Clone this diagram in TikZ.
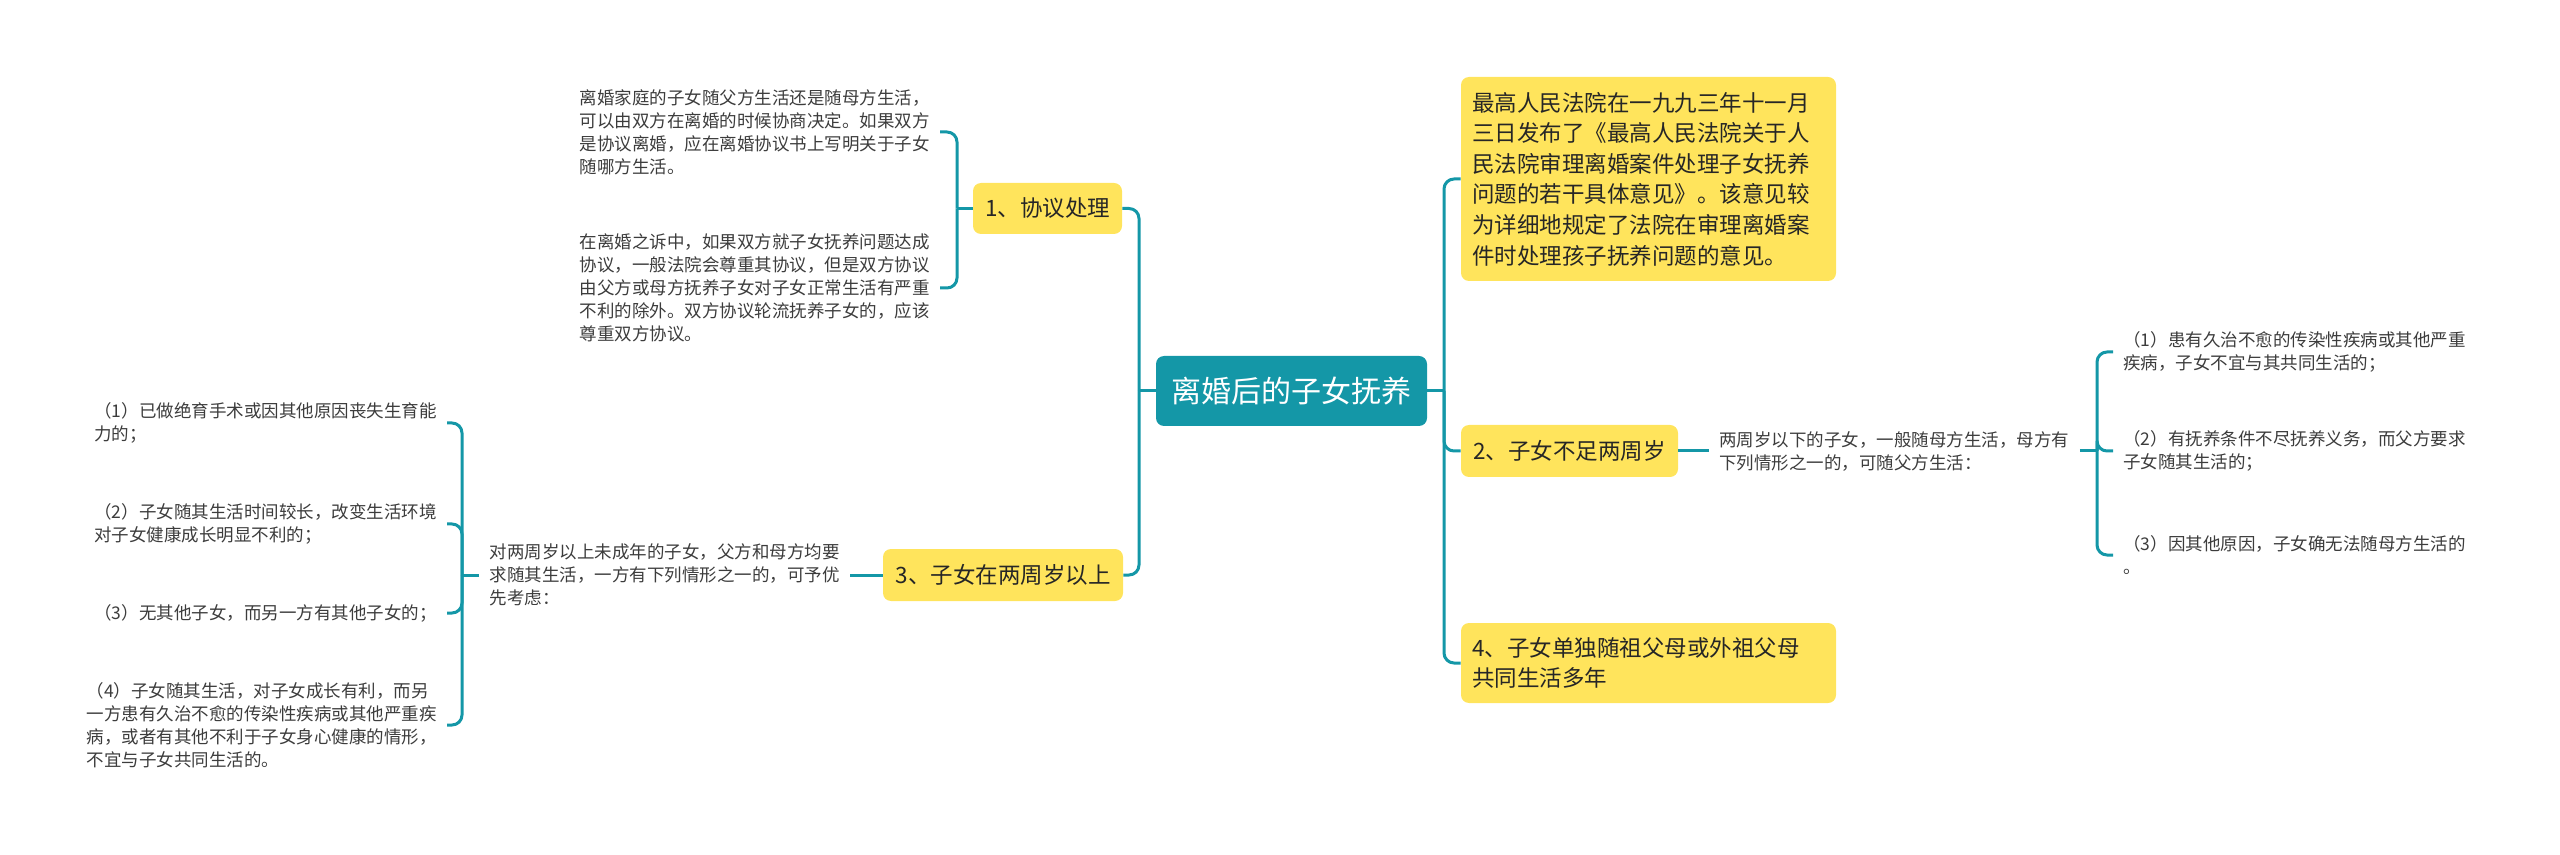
\documentclass[tikz,border=0pt]{standalone}
\usepackage{fontspec}
\setmainfont{Noto Sans CJK SC}

\definecolor{mapteal}{RGB}{20,151,167}
\definecolor{mapyellow}{RGB}{255,228,92}
\definecolor{mapink}{RGB}{38,38,38}
\definecolor{leafink}{RGB}{60,60,60}

\begin{document}
\begin{tikzpicture}[x=0.5pt, y=-0.5pt,
  conn/.style={draw=mapteal, line width=1.5pt, rounded corners=5pt},
  root/.style={fill=mapteal, text=white, rounded corners=4pt,
    font=\fontsize{15}{18}\selectfont, minimum width=135.5pt, minimum height=35pt},
  topic/.style={fill=mapyellow, text=mapink, rounded corners=4pt,
    font=\fontsize{11.25}{15.3}\selectfont, align=left, inner xsep=5.5pt},
  leaf/.style={text=leafink, font=\fontsize{8.75}{11.5}\selectfont,
    align=left, inner xsep=5pt, inner ysep=0pt}]

  \useasboundingbox (0,0) rectangle (2560,855);

  \node[root] (root) at (1291.5,391) {离婚后的子女抚养};

  % Left topics
  \node[topic, minimum width=74.5pt, minimum height=25.5pt] (agree) at (1047.5,208.5) {1、协议处理};
  \node[topic, minimum width=120pt, minimum height=26pt] (over) at (1003,575) {3、子女在两周岁以上};

  % Right topics
  \node[topic, text width=176.5pt, minimum height=102pt] (court) at (1648.5,179)
    {最高人民法院在一九九三年十一月\\三日发布了《最高人民法院关于人\\民法院审理离婚案件处理子女抚养\\问题的若干具体意见》。该意见较\\为详细地规定了法院在审理离婚案\\件时处理孩子抚养问题的意见。};
  \node[topic, minimum width=108.5pt, minimum height=26pt] (under) at (1569.5,451) {2、子女不足两周岁};
  \node[topic, text width=176.5pt, minimum height=40pt] (grand) at (1648.5,663)
    {4、子女单独随祖父母或外祖父母\\共同生活多年};

  % Leaves of 1
  \node[leaf, anchor=east] (custom) at (940,132)
    {离婚家庭的子女随父方生活还是随母方生活，\\可以由双方在离婚的时候协商决定。如果双方\\是协议离婚，应在离婚协议书上写明关于子女\\随哪方生活。};
  \node[leaf, anchor=east] (suit) at (940,288)
    {在离婚之诉中，如果双方就子女抚养问题达成\\协议，一般法院会尊重其协议，但是双方协议\\由父方或母方抚养子女对子女正常生活有严重\\不利的除外。双方协议轮流抚养子女的，应该\\尊重双方协议。};

  % Leaves of 3
  \node[leaf, anchor=east] (pref) at (850,575)
    {对两周岁以上未成年的子女，父方和母方均要\\求随其生活，一方有下列情形之一的，可予优\\先考虑：};
  \node[leaf, anchor=east] (o1) at (447,423)
    {（1）已做绝育手术或因其他原因丧失生育能\\力的；};
  \node[leaf, anchor=east] (o2) at (447,524)
    {（2）子女随其生活时间较长，改变生活环境\\对子女健康成长明显不利的；};
  \node[leaf, anchor=east] (o3) at (447,613)
    {（3）无其他子女，而另一方有其他子女的；};
  \node[leaf, anchor=east] (o4) at (447,725)
    {（4）子女随其生活，对子女成长有利，而另\\一方患有久治不愈的传染性疾病或其他严重疾\\病，或者有其他不利于子女身心健康的情形，\\不宜与子女共同生活的。};

  % Leaves of 2
  \node[leaf, anchor=west] (rule) at (1709,451)
    {两周岁以下的子女，一般随母方生活，母方有\\下列情形之一的，可随父方生活：};
  \node[leaf, anchor=west] (u1) at (2113,352)
    {（1）患有久治不愈的传染性疾病或其他严重\\疾病，子女不宜与其共同生活的；};
  \node[leaf, anchor=west] (u2) at (2113,451)
    {（2）有抚养条件不尽抚养义务，而父方要求\\子女随其生活的；};
  \node[leaf, anchor=west] (u3) at (2113,555)
    {（3）因其他原因，子女确无法随母方生活的\\。};

  % Trunks
  \coordinate (lt) at (1139,391);
  \coordinate (rt) at (1444,391);
  \draw[conn] (root.west) -- (lt);
  \draw[conn] (root.east) -- (rt);
  \foreach \n in {agree, over}
    \draw[conn] (lt) |- (\n.east);
  \foreach \n in {court, under, grand}
    \draw[conn] (rt) |- (\n.west);

  % Brackets
  \coordinate (b1) at (957,208.5);
  \coordinate (b3) at (462,575);
  \coordinate (b2) at (2097,451);
  \draw[conn] (agree.west) -- (b1);
  \foreach \n in {custom, suit}
    \draw[conn] (b1) |- (\n.east);

  \draw[conn] (over.west) -- (pref.east);
  \draw[conn] (pref.west) -- (b3);
  \foreach \n in {o1, o2, o3, o4}
    \draw[conn] (b3) |- (\n.east);

  \draw[conn] (under.east) -- (rule.west);
  \draw[conn] (rule.east) -- (b2);
  \foreach \n in {u1, u2, u3}
    \draw[conn] (b2) |- (\n.west);

\end{tikzpicture}
\end{document}
